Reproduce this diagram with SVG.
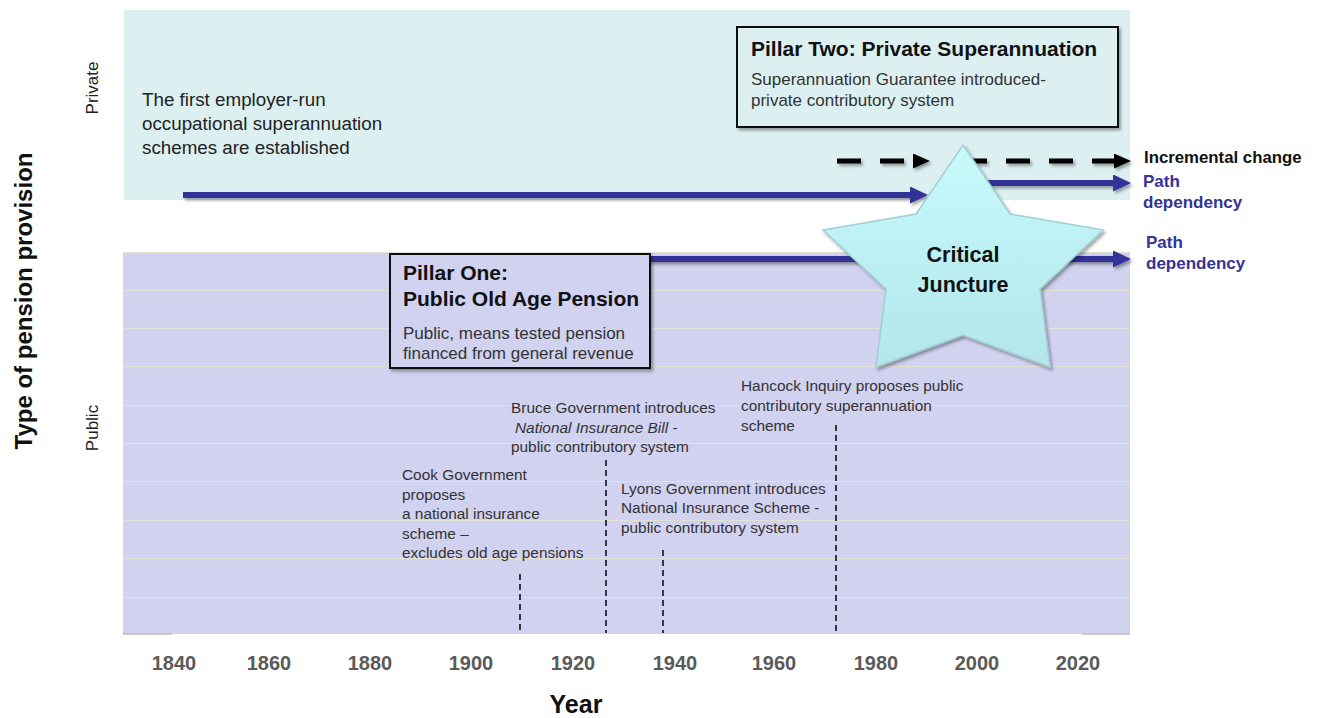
<svg xmlns="http://www.w3.org/2000/svg" width="1323" height="718" viewBox="0 0 1323 718">
<style>
.t{font-family:"Liberation Sans",Arial,sans-serif;}
.ev{font-family:"Liberation Sans",Arial,sans-serif;font-size:15.4px;fill:#333;}
.sub{font-family:"Liberation Sans",Arial,sans-serif;font-size:17px;fill:#333;}
.ttl{font-family:"Liberation Sans",Arial,sans-serif;font-size:21px;font-weight:bold;fill:#111;}
.yr{font-family:"Liberation Sans",Arial,sans-serif;font-size:20px;font-weight:bold;fill:#5a5a5a;text-anchor:middle;}
.grid{stroke:#e3e1d4;stroke-width:1.2;}
.blue{stroke:#333399;stroke-width:6;fill:none;}
.dash{stroke:#000;stroke-width:5;stroke-dasharray:24 19;fill:none;}
.vd{stroke:#111;stroke-width:1.6;stroke-dasharray:6 4;fill:none;}
.box{stroke:#111;stroke-width:2;}
.leg{font-family:"Liberation Sans",Arial,sans-serif;font-size:17px;font-weight:bold;fill:#333399;}
</style>
<defs>
<filter id="sh" filterUnits="userSpaceOnUse" x="0" y="0" width="1323" height="718">
<feDropShadow dx="2" dy="2.5" stdDeviation="1.6" flood-color="#000" flood-opacity="0.35"/>
</filter>
<marker id="bh" markerUnits="userSpaceOnUse" markerWidth="18" markerHeight="17" refX="8" refY="8.5" orient="auto">
<path d="M0,0 L18,8.5 L0,17 Z" fill="#333399"/>
</marker>
<marker id="kh" markerUnits="userSpaceOnUse" markerWidth="17" markerHeight="15" refX="8" refY="7.5" orient="auto">
<path d="M0,0 L17,7.5 L0,15 Z" fill="#000"/>
</marker>
<linearGradient id="sg" x1="0" y1="0" x2="0" y2="1">
<stop offset="0" stop-color="#c6fafb"/>
<stop offset="1" stop-color="#b2e6ea"/>
</linearGradient>
</defs>

<g id="private-band">
<rect x="124" y="10" width="1006" height="190" fill="#dcf0f2"/>
</g>
<g id="public-band">
<rect x="123" y="252" width="1007" height="382" fill="#d1d1f0"/>
<line class="grid" x1="123" y1="252.5" x2="1130" y2="252.5"/>
<line class="grid" x1="123" y1="290.5" x2="1130" y2="290.5"/>
<line class="grid" x1="123" y1="328.5" x2="1130" y2="328.5"/>
<line class="grid" x1="123" y1="366.5" x2="1130" y2="366.5"/>
<line class="grid" x1="123" y1="405.5" x2="1130" y2="405.5"/>
<line class="grid" x1="123" y1="443.5" x2="1130" y2="443.5"/>
<line class="grid" x1="123" y1="481.5" x2="1130" y2="481.5"/>
<line class="grid" x1="123" y1="520.5" x2="1130" y2="520.5"/>
<line class="grid" x1="123" y1="558.5" x2="1130" y2="558.5"/>
<line class="grid" x1="123" y1="597.5" x2="1130" y2="597.5"/>
<line x1="123" y1="634" x2="172" y2="634" stroke="#bdbdbd" stroke-width="1.5"/>
<line x1="1082" y1="634" x2="1130" y2="634" stroke="#bdbdbd" stroke-width="1.5"/>
</g>

<g id="axes">
<text class="t" font-size="24" font-weight="bold" fill="#111" text-anchor="middle" transform="translate(32,301) rotate(-90)">Type of pension provision</text>
<text class="t" font-size="17" fill="#222" text-anchor="middle" transform="translate(98,88) rotate(-90)">Private</text>
<text class="t" font-size="17" fill="#222" text-anchor="middle" transform="translate(98,428) rotate(-90)">Public</text>
<text class="yr" x="174" y="670">1840</text>
<text class="yr" x="269" y="670">1860</text>
<text class="yr" x="370" y="670">1880</text>
<text class="yr" x="471" y="670">1900</text>
<text class="yr" x="573" y="670">1920</text>
<text class="yr" x="675" y="670">1940</text>
<text class="yr" x="774" y="670">1960</text>
<text class="yr" x="876" y="670">1980</text>
<text class="yr" x="977" y="670">2000</text>
<text class="yr" x="1078" y="670">2020</text>
<text class="t" x="576" y="713" font-size="25" font-weight="bold" fill="#111" text-anchor="middle">Year</text>
</g>

<g id="employer-schemes">
<text class="t" font-size="18.8" fill="#222"><tspan x="142" y="106">The first employer-run</tspan><tspan x="142" y="130">occupational superannuation</tspan><tspan x="142" y="154">schemes are established</tspan></text>
</g>

<g id="connectors">
<g filter="url(#sh)">
<line class="blue" x1="183" y1="195" x2="918" y2="195" marker-end="url(#bh)"/>
<line class="blue" x1="955" y1="183" x2="1121" y2="183" marker-end="url(#bh)"/>
<line class="blue" x1="645" y1="259" x2="1121" y2="259" marker-end="url(#bh)"/>
<line class="dash" x1="837" y1="161" x2="921" y2="161" marker-end="url(#kh)"/>
<line class="dash" x1="963" y1="161" x2="1122" y2="161" stroke-dasharray="24 20" marker-end="url(#kh)"/>
</g>
<line class="vd" x1="520" y1="574" x2="520" y2="633"/>
<line class="vd" x1="606" y1="460" x2="606" y2="633"/>
<line class="vd" x1="663" y1="550" x2="663" y2="633"/>
<line class="vd" x1="836" y1="425" x2="836" y2="633"/>
</g>

<g id="pillar-two">
<rect class="box" x="737" y="27" width="381" height="100" fill="#dcf0f2" filter="url(#sh)"/>
<text class="ttl" x="751" y="56">Pillar Two: Private Superannuation</text>
<text class="sub"><tspan x="751" y="85">Superannuation Guarantee introduced-</tspan><tspan x="751" y="106">private contributory system</tspan></text>
</g>

<g id="pillar-one">
<rect class="box" x="390" y="254" width="260" height="114" fill="#d1d1f0" filter="url(#sh)"/>
<text class="ttl"><tspan x="403" y="280">Pillar One:</tspan><tspan x="403" y="306">Public Old Age Pension</tspan></text>
<text class="sub"><tspan x="403" y="339">Public, means tested pension</tspan><tspan x="403" y="359">financed from general revenue</tspan></text>
</g>

<g id="critical-juncture">
<polygon points="963,145 1010,214 1103,230 1040,289 1050,367 963,335 876,367 886,289 823,230 916,214" fill="url(#sg)" stroke="#9fd0d4" stroke-width="1.5" filter="url(#sh)"/>
<text class="t" font-size="21.5" font-weight="bold" fill="#111" text-anchor="middle"><tspan x="963" y="262">Critical</tspan><tspan x="963" y="292">Juncture</tspan></text>
</g>

<g id="event-cook">
<text class="ev"><tspan x="402" y="480">Cook Government</tspan><tspan x="402" y="499.5">proposes</tspan><tspan x="402" y="519">a national insurance</tspan><tspan x="402" y="538.5">scheme –</tspan><tspan x="402" y="558">excludes old age pensions</tspan></text>
</g>
<g id="event-bruce">
<text class="ev"><tspan x="511" y="413">Bruce Government introduces</tspan><tspan x="515" y="432.5"><tspan font-style="italic">National Insurance Bill</tspan> -</tspan><tspan x="511" y="452">public contributory system</tspan></text>
</g>
<g id="event-lyons">
<text class="ev"><tspan x="621" y="493.5">Lyons Government introduces</tspan><tspan x="621" y="513">National Insurance Scheme -</tspan><tspan x="621" y="533">public contributory system</tspan></text>
</g>
<g id="event-hancock">
<text class="ev"><tspan x="741" y="390.5">Hancock Inquiry proposes public</tspan><tspan x="741" y="410.5">contributory superannuation</tspan><tspan x="741" y="430.5">scheme</tspan></text>
</g>

<g id="legend">
<text class="t" x="1144" y="163" font-size="16.8" font-weight="bold" fill="#111">Incremental change</text>
<text class="leg"><tspan x="1143" y="187">Path</tspan><tspan x="1143" y="208">dependency</tspan></text>
<text class="leg"><tspan x="1146" y="248">Path</tspan><tspan x="1146" y="269">dependency</tspan></text>
</g>
</svg>
